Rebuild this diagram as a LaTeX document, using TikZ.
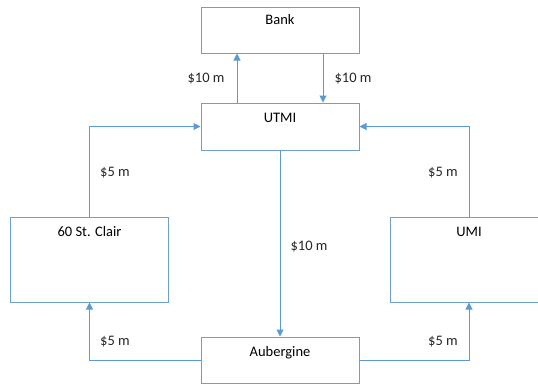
\documentclass[tikz,border=0pt]{standalone}
\usepackage{fontspec}
\setmainfont{Carlito}
\usetikzlibrary{arrows.meta}
\definecolor{flowblue}{RGB}{91,155,213}
\definecolor{boxblue}{RGB}{110,160,205}

\begin{document}
\begin{tikzpicture}[x=1pt, y=-1pt, font=\fontsize{14.5}{17}\selectfont,
	box/.style={draw=boxblue, line width=1pt, rectangle, minimum width=158pt, inner sep=0pt},
	amount/.style={inner sep=0pt, text=black!85}]
					\clip (0,0) rectangle (538,384);
					\node[box, minimum height=46pt, label={[anchor=north, inner sep=0pt, yshift=-8pt]north:Bank}] (Bank)at(280, 30) {};
					\node[box, minimum height=47pt, label={[anchor=north, inner sep=0pt, yshift=-10pt]north:UTMI}] (UTMI)at(280, 126.5) {};
					\node[box, minimum height=85pt, label={[anchor=north, inner sep=0pt, yshift=-10pt]north:60 St. Clair}] (StClair)at(89.5, 259.5) {};
					\node[box, minimum height=85pt, label={[anchor=north, inner sep=0pt, yshift=-10pt]north:UMI}] (UMI)at(469, 259.5) {};
					\node[box, minimum height=46pt, label={[anchor=north, inner sep=0pt, yshift=-10pt]north:Aubergine}] (Aub)at(280, 360) {};
					\node[amount] (BankOut)at(206, 78.5) {\$10 m};
					\node[amount] (BankIn)at(353, 78.5) {\$10 m};
					\node[amount] (StClairOut)at(115, 172.5) {\$5 m};
					\node[amount] (UMIOut)at(443, 172.5) {\$5 m};
					\node[amount] (AubIn)at(309, 246.5) {\$10 m};
					\node[amount] (StClairIn)at(115, 341.5) {\$5 m};
					\node[amount] (UMIIn)at(443, 341.5) {\$5 m};
					\draw[->, >={Triangle[length=7pt, width=7pt]}, flowblue, line width=1pt] ([xshift=-43pt]UTMI.north) -- ([xshift=-43pt]Bank.south);
					\draw[->, >={Triangle[length=7pt, width=7pt]}, flowblue, line width=1pt] ([xshift=43pt]Bank.south) -- ([xshift=43pt]UTMI.north);
					\draw[->, >={Triangle[length=7pt, width=7pt]}, flowblue, line width=1pt] (StClair.north) |- (UTMI.west);
					\draw[->, >={Triangle[length=7pt, width=7pt]}, flowblue, line width=1pt] (UMI.north) |- (UTMI.east);
					\draw[->, >={Triangle[length=7pt, width=7pt]}, flowblue, line width=1pt] (UTMI.south) -- (Aub.north);
					\draw[->, >={Triangle[length=7pt, width=7pt]}, flowblue, line width=1pt] (Aub.west) -| (StClair.south);
					\draw[->, >={Triangle[length=7pt, width=7pt]}, flowblue, line width=1pt] (Aub.east) -| (UMI.south);
				\end{tikzpicture}
\end{document}
